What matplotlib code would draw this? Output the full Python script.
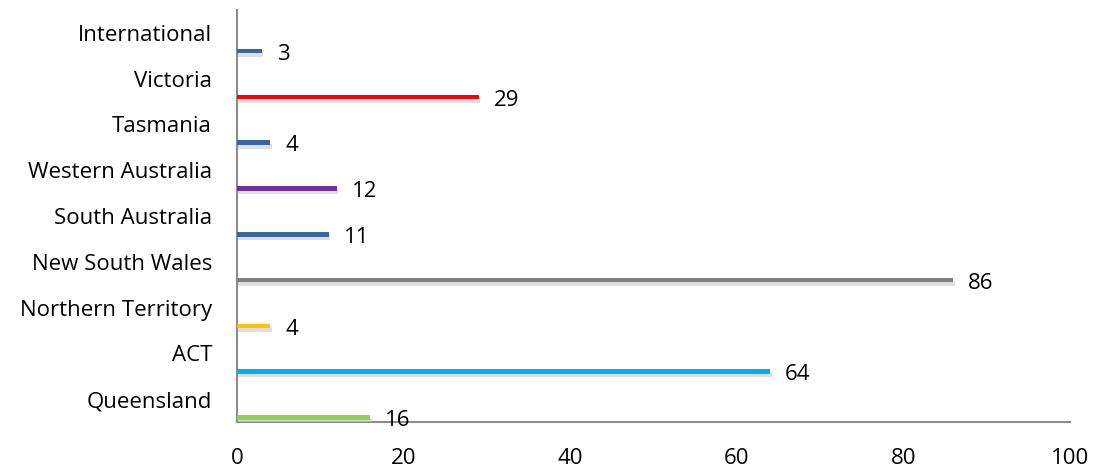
import matplotlib
matplotlib.use("Agg")
import matplotlib.pyplot as plt
import matplotlib.patheffects as pe

# data, bottom to top
regions = ['Queensland', 'ACT', 'Northern Territory', 'New South Wales',
           'South Australia', 'Western Australia', 'Tasmania', 'Victoria',
           'International']
counts = [16, 64, 4, 86, 11, 12, 4, 29, 3]
colors = ['#92D050', '#00B0F0', '#FFC000', '#808080', '#3A66A0',
          '#7030A0', '#3A66A0', '#FF0000', '#3A66A0']
xticks = [0, 20, 40, 60, 80, 100]

plt.rcParams['font.family'] = ['Open Sans', 'DejaVu Sans']

fig = plt.figure(figsize=(10.95, 4.68), dpi=100)
ax = fig.add_axes([237 / 1095, 1 - 422 / 468, (1070 - 237) / 1095, 412 / 468])

pos = list(range(len(regions)))
bar_off = -0.4
bars = ax.barh([p + bar_off for p in pos], counts, height=0.1, color=colors,
               zorder=3)
for b in bars:
    b.set_path_effects([pe.SimplePatchShadow(offset=(1, -2.5), shadow_rgbFace='#C8C8C8',
                                             alpha=0.6), pe.Normal()])

for p, v in zip(pos, counts):
    ax.text(v + 1.8, p + bar_off - 0.07, str(v), va='center', ha='left',
            fontsize=16, color='black')

ax.set_xlim(0, 100)
ax.set_ylim(-0.5, len(regions) - 0.5)
ax.set_xticks(xticks)
ax.set_yticks(pos)
ax.set_yticklabels(regions)
ax.tick_params(axis='both', length=0, labelsize=16, colors='black')
ax.tick_params(axis='x', pad=19)
ax.tick_params(axis='y', pad=18)

for s in ['top', 'right']:
    ax.spines[s].set_visible(False)
for s in ['left', 'bottom']:
    ax.spines[s].set_color('#8C8C8C')
    ax.spines[s].set_linewidth(1.5)

fig.savefig('out.png', dpi=100)
